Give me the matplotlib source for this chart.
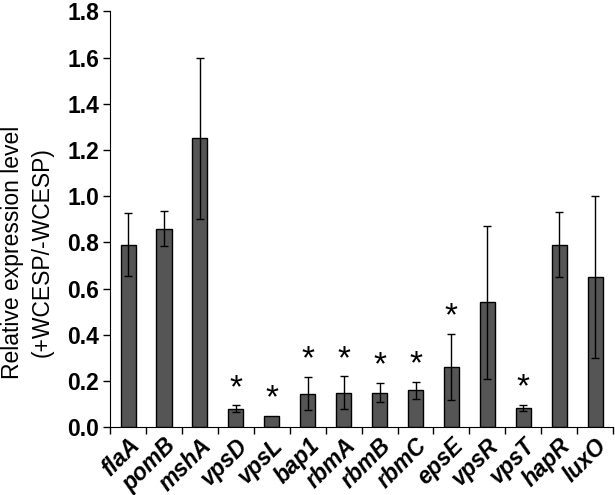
import matplotlib
matplotlib.use("Agg")
import matplotlib.pyplot as plt
import numpy as np

genes = ["flaA", "pomB", "mshA", "vpsD", "vpsL", "bap1", "rbmA", "rbmB",
         "rbmC", "epsE", "vpsR", "vpsT", "hapR", "luxO"]
values = [0.79, 0.86, 1.25, 0.08, 0.05, 0.145, 0.15, 0.15, 0.16, 0.26, 0.54, 0.083, 0.79, 0.65]
errors = [0.137, 0.077, 0.35, 0.014, 0.0, 0.072, 0.07, 0.042, 0.036, 0.143, 0.332, 0.013, 0.142, 0.35]
significant = [False, False, False, True, True, True, True, True, True, True, False, True, False, False]
yticks = [0.0, 0.2, 0.4, 0.6, 0.8, 1.0, 1.2, 1.4, 1.6, 1.8]

plt.rcParams['font.family'] = ['Liberation Sans', 'DejaVu Sans']

fig = plt.figure(figsize=(6.15, 4.95), dpi=100)
ax = fig.add_axes([0.179, 0.137, 0.818, 0.840])

x = np.arange(len(genes))
ax.bar(x, values, width=0.42, color='#555555', edgecolor='black', linewidth=1.0, zorder=2)
for xi, v, e in zip(x, values, errors):
    if e > 0:
        ax.errorbar(xi, v, yerr=e, fmt='none', ecolor='black', elinewidth=1.0,
                    capsize=3, capthick=1.0, zorder=3)
for xi, v, e, s in zip(x, values, errors, significant):
    if s:
        ax.annotate('*', (xi, v + e), xytext=(0, 1), textcoords='offset points',
                    ha='center', va='bottom', fontsize=24)

ax.set_xlim(-0.5, len(genes) - 0.5)
ax.set_ylim(0, 1.8)
ax.set_yticks(yticks)
ax.set_yticklabels([f"{t:.1f}" for t in yticks], fontsize=16.5, fontweight='bold')
ax.set_xticks(np.arange(len(genes) + 1) - 0.5)
ax.set_xticklabels([])
ax.set_xticks(x, minor=True)
ax.set_xticklabels(genes, minor=True, rotation=45, ha='right', rotation_mode='anchor',
                   fontsize=16.5, fontweight='bold', fontstyle='italic')
ax.tick_params(axis='x', which='minor', length=0, pad=5)
ax.tick_params(axis='x', which='major', length=5, width=1)
ax.tick_params(axis='y', length=5, width=1, pad=3)
ax.spines['top'].set_visible(False)
ax.spines['right'].set_visible(False)
ax.set_ylabel("Relative expression level\n(+WCESP/-WCESP)", fontsize=16.5, linespacing=1.35)
ax.yaxis.set_label_coords(-0.113, 0.42)

fig.savefig("out.png", dpi=100)
